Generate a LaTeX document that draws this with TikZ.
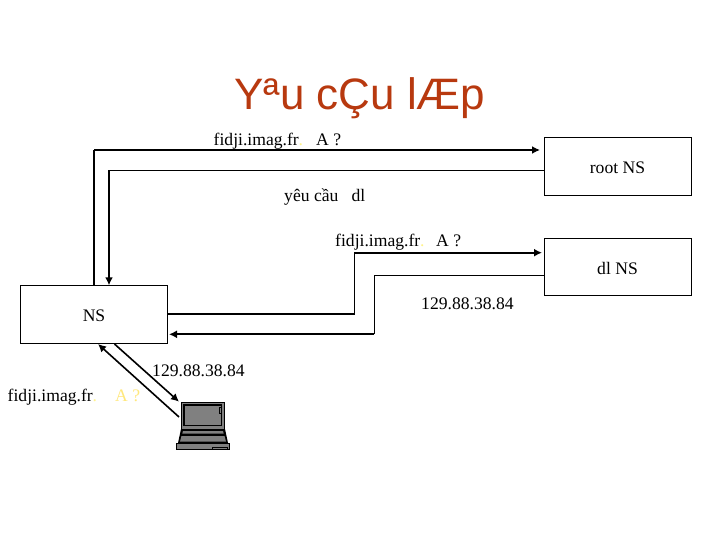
\documentclass[tikz,border=0pt]{standalone}
\usepackage{fontspec}
\setmainfont{Liberation Serif}
\newfontfamily\titlefont{Liberation Sans}
\usetikzlibrary{arrows.meta}
\definecolor{titlered}{HTML}{B8390F}
\definecolor{faintyellow}{HTML}{FFF38A}
\definecolor{lapgray}{HTML}{808080}
\tikzset{
  x=1pt,y=-1pt,
  box/.style={draw=black,line width=1pt,inner sep=0pt},
  thickline/.style={draw=black,line width=2pt},
  thinline/.style={draw=black,line width=1.2pt},
  diagline/.style={draw=black,line width=1.6pt},
  arrowtip/.style={-{Latex[length=8pt,width=8pt]}},
  txtlabel/.style={inner sep=0pt,anchor=base west,font=\fontsize{17.6}{20}\selectfont},
  numlabel/.style={inner sep=0pt,anchor=base west,font=\fontsize{17.6}{20}\selectfont},
}
\newcommand{\faintdot}{\textcolor{faintyellow}{.}}
\begin{document}
\begin{tikzpicture}
\useasboundingbox (0,0) rectangle (720,540);
\fill[white] (0,0) rectangle (720,540);
\node[inner sep=0pt,anchor=base,text=titlered,font=\titlefont\fontsize{44}{50}\selectfont] (title) at (360,110) {Yªu cÇu lÆp};

\node[box,minimum width=147.5pt,minimum height=58pt] (ns) at (94,314.3) {};
\node[box,minimum width=147.5pt,minimum height=58pt] (root) at (617.8,166.2) {};
\node[box,minimum width=147.5pt,minimum height=57pt] (dl) at (617.8,266.8) {};
\node[txtlabel,anchor=center] (nstxt) at (94,316) {NS};
\node[txtlabel,anchor=center] (roottxt) at (617.5,168) {root NS};
\node[txtlabel,anchor=center] (dltxt) at (617.5,268) {dl NS};

% connector anchor points
\coordinate (a0) at (94.3,285.3);
\coordinate (a1) at (94.3,150);
\coordinate (a2) at (540,150);
\coordinate (b0) at (544,170.3);
\coordinate (b1) at (109,170.3);
\coordinate (b2) at (109,285.3);
\coordinate (c0) at (167.8,314);
\coordinate (c1) at (354.3,314);
\coordinate (c2) at (354.3,252.7);
\coordinate (c3) at (542,252.7);
\coordinate (d0) at (544,275.3);
\coordinate (d1) at (374.3,275.3);
\coordinate (d2) at (374.3,334.3);
\coordinate (d3) at (169,334.3);
\coordinate (e0) at (114.5,344);
\coordinate (e1) at (179,401.7);
\coordinate (f0) at (179,417);
\coordinate (f1) at (98,344);

\draw[thickline] (a0) -- (a1);
\draw[thickline,arrowtip] (a1) -- (a2);
\draw[thinline] (b0) -- (b1);
\draw[thickline,arrowtip] (b1) -- (b2);
\draw[thinline] (c0) -- (c1) -- (c2);
\draw[thickline,arrowtip] (c2) -- (c3);
\draw[thinline] (d0) -- (d1) -- (d2);
\draw[thickline,arrowtip] (d2) -- (d3);
\draw[diagline,arrowtip] (e0) -- (e1);
\draw[diagline,arrowtip] (f0) -- (f1);

\node[txtlabel] (q1) at (213.5,146) {fidji.imag.fr\faintdot};
\node[txtlabel] (q1a) at (316,146) {A ?};
\node[txtlabel] (req) at (284,202) {yêu cầu\ \ \ dl};
\node[txtlabel] (q2) at (335,247) {fidji.imag.fr\faintdot};
\node[txtlabel] (q2a) at (436,247) {A ?};
\node[numlabel] (ans1) at (421,309) {129.88.38.84};
\node[numlabel] (ans2) at (152,376) {129.88.38.84};
\node[txtlabel] (q3) at (7.5,401) {fidji.imag.fr\faintdot};
\node[txtlabel,text=faintyellow!90!orange] (q3a) at (115,401) {A ?};

% laptop
\filldraw[fill=lapgray,draw=black,line width=.9pt] (181.5,402) rectangle (224.5,429);
\filldraw[fill=lapgray,draw=black,line width=1.2pt] (184,405) rectangle (221.5,425.5);
\draw[black,line width=.7pt] (219,407) rectangle (221,413);
\fill[black] (181,429) -- (225,429) -- (228,443) -- (178,443) -- cycle;
\fill[lapgray] (183,431) -- (223,431) -- (223.7,433.5) -- (182.3,433.5) -- cycle;
\fill[lapgray] (181.5,436) -- (224.5,436) -- (226,441.5) -- (180,441.5) -- cycle;
\filldraw[fill=lapgray,draw=black,line width=.7pt] (176.5,443.5) rectangle (229.5,449.5);
\draw[black,line width=.6pt] (212,447) rectangle (227,449.5);
\end{tikzpicture}
\end{document}
